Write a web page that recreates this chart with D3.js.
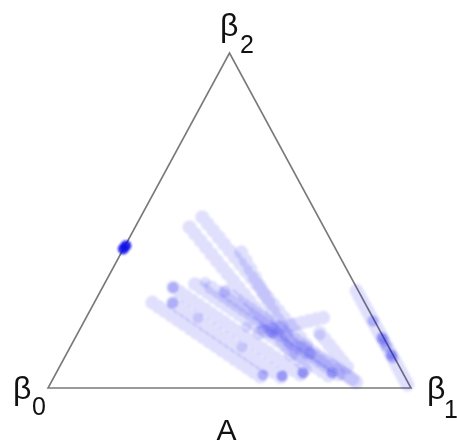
<!DOCTYPE html>
<html>
<head>
<meta charset="utf-8">
<script src="https://cdn.jsdelivr.net/npm/d3@7"></script>
<style>
  html, body { margin: 0; padding: 0; background: #fff; }
  svg { display: block; }
  text { font-family: "Liberation Sans", Arial, sans-serif; fill: #111; }
</style>
</head>
<body>
<svg id="chart" width="457" height="447"></svg>
<script>
// Ternary coordinates in percent: [share of β1, share of β2]; β0 = 100 − β1 − β2.
const vertexLabels = [
  { name: "β", sub: "0", corner: [0, 0] },
  { name: "β", sub: "1", corner: [100, 0] },
  { name: "β", sub: "2", corner: [0, 100] }
];
const axisTitle = "A";

// Trajectories along the β1–β2 edge
const edgeTrack = [
  [70.5,29],[72,27.5],[73.5,26],[75,24.5],[76.5,23],[78,21.5],[79,20.5],[79.5,20],[80.5,19],[81.5,18],
  [82.5,17],[83.5,16],[84.5,15],[85,14.5],[85.5,14],[86.5,13],[87.5,12],[88.5,11],[89.5,10],[90,9.5],
  [90.5,9],[91.5,8],[92.5,7],[93.5,6],[94.5,5],[95.5,4],[96.5,3],[97.5,2],[98.5,1]
];

// Interior trajectories
const trackU1 = [[15,48],[17.5,46],[20,44],[22.5,42],[25,40],[27.5,38],[30,36],[32.5,34],[35,32],[37.5,30],[40,28],[42.5,26],[45,24],[47.5,22],[50,20],[52.5,18],[55,16],[57.5,14],[60,12],[62,10]];
const trackU2 = [[17,51],[19.5,49],[22,47],[24.5,45],[27,43],[29.5,41],[32,39],[34.5,37],[37,35],[39.5,33],[42,31],[44.5,29],[47,27],[49.5,25],[52,23],[54.5,21],[57,19],[59.5,17],[62,15],[64.5,13]];
const trackU3 = [[33,40.5],[35.5,38],[38,35.5],[40.5,33],[43,30.5],[45.5,28],[48,25.5],[50.5,23],[53,20.5],[55.5,18],[58,15.5],[60.5,13],[63,10.5],[65.5,8],[68,5.5]];
const trackL1 = [[16,25.5],[18.4,24.2],[20.8,22.9],[23.2,21.6],[25.6,20.3],[28,19],[30.4,17.7],[32.8,16.4],[35.2,15.1],[37.6,13.8],[40,12.5],[42.4,11.2],[44.8,9.9],[47.2,8.6],[49.6,7.3],[52,6],[54.4,4.7],[56.8,3.4]];
const trackL2 = [[21.7,25.4],[24.1,24.1],[26.5,22.8],[28.9,21.5],[31.3,20.2],[33.7,18.9],[36.1,17.6],[38.5,16.3],[40.9,15],[43.3,13.7],[45.7,12.4],[48.1,11.1],[50.5,9.8],[52.9,8.5],[55.3,7.2],[57.7,5.9],[60.1,4.6],[62.5,3.3]];
const trackL3 = [[19.5,30],[21.9,28.7],[24.3,27.4],[26.7,26.1],[29.1,24.8],[31.5,23.5],[33.9,22.2],[36.3,20.9],[38.7,19.6],[41.1,18.3],[43.5,17],[45.9,15.7],[48.3,14.4],[50.7,13.1],[53.1,11.8],[55.5,10.5],[57.9,9.2],[60.3,7.9],[62.7,6.6],[65.1,5.3],[67.5,4]];
const trackL4 = [[25,31],[27.4,29.7],[29.8,28.4],[32.2,27.1],[34.6,25.8],[37,24.5],[39.4,23.2],[41.8,21.9],[44.2,20.6],[46.6,19.3],[49,18],[51.4,16.7],[53.8,15.4],[56.2,14.1],[58.6,12.8],[61,11.5],[63.4,10.2],[65.8,8.9],[68.2,7.6],[70.6,6.3],[73,5],[75.4,3.7]];
const trackL5 = [[30,30],[32.4,28.7],[34.8,27.4],[37.2,26.1],[39.6,24.8],[42,23.5],[44.4,22.2],[46.8,20.9],[49.2,19.6],[51.6,18.3],[54,17],[56.4,15.7],[58.8,14.4],[61.2,13.1],[63.6,11.8],[66,10.5],[68.4,9.2],[70.8,7.9],[73.2,6.6],[75.6,5.3],[78,4]];
const trackL6 = [[34.5,28.7],[36.9,27.4],[39.3,26.1],[41.7,24.8],[44.1,23.5],[46.5,22.2],[48.9,20.9],[51.3,19.6],[53.7,18.3],[56.1,17],[58.5,15.7],[60.9,14.4],[63.3,13.1],[65.7,11.8],[68.1,10.5],[70.5,9.2],[72.9,7.9],[75.3,6.6],[77.7,5.3],[80.1,4],[82.5,2.7]];
const trackR  = [[50,16.5],[51.7,17],[53.4,17.5],[55.1,18],[56.8,18.5],[58.5,19],[60.2,19.5],[61.9,20],[63.6,20.5],[65.3,21]];
const trackD1 = [[64,12.2],[66.5,10.9],[69,9.6],[71.5,8.3],[74,7],[76.5,5.7],[79,4.4],[81.5,3.1],[84,1.8]];
const trackD2 = [[66.7,16.4],[68.8,14.7],[70.9,13],[73,11.3],[75.1,9.6],[77.2,7.9],[79.3,6.2]];

// Repeated samples: [β1, β2, number of coinciding samples]
const repeated = [
  [0,41.5,16],[0.2,42.5,16],
  [19.5,30,2],[21.7,25.4,2],[27.5,31.6,1],[34.5,28.7,1],[30.9,20.9,1],[45.7,18.2,1],[50.3,17.3,1],
  [53.5,16.4,2],[47.3,12.2,1],[67,10.4,2],[67,15.8,1],
  [57.3,3.9,2],[62.7,3.6,3],[68,4.5,3],[76,4.5,2],
  [79.5,20,2],[84.5,15,3],[85.5,14,2],[87,12.5,2],[89.5,10,3],[90.5,9,2]
];

const tracks = [edgeTrack, trackU1, trackU2, trackU3, trackL1, trackL2, trackL3, trackL4, trackL5, trackL6, trackR, trackD1, trackD2];

const svg = d3.select("#chart");
const x = d3.scaleLinear().domain([0, 100]).range([48, 411]);
const y = d3.scaleLinear().domain([0, 100]).range([388, 53]);
const px = d => x(d[0] + d[1] / 2);
const py = d => y(d[1]);

const trackOpacity = 0.12;
const dotColor = "#1010e8";
const r = 7;

// soft edge on the sample dots
svg.append("defs").append("filter").attr("id", "soft")
  .attr("x", "-10%").attr("y", "-10%").attr("width", "120%").attr("height", "120%")
  .append("feGaussianBlur").attr("stdDeviation", 1.3);

// Triangle frame
const corners = [[0, 0], [100, 0], [0, 100]];
svg.append("path")
  .attr("d", d3.line().x(px).y(py)(corners) + "Z")
  .attr("fill", "none")
  .attr("stroke", "#7a7a7a")
  .attr("stroke-width", 1.6)
  .attr("stroke-linejoin", "miter");

// Samples: each trajectory is a translucent band of dots
const dots = svg.append("g").attr("filter", "url(#soft)");
tracks.forEach(t => {
  dots.append("g").attr("opacity", trackOpacity)
    .selectAll("circle").data(t).join("circle")
    .attr("cx", px).attr("cy", py).attr("r", r)
    .attr("fill", dotColor);
});
dots.selectAll(null).data(repeated).join("circle")
  .attr("cx", px).attr("cy", py).attr("r", d => d[2] > 8 ? 5.5 : 5.5)
  .attr("fill", dotColor)
  .attr("fill-opacity", d => 1 - Math.pow(1 - 0.12, d[2]));

// Vertex labels
const labelPos = {
  "0": { bx: 13, by: 399, sx: 32, sy: 415 },
  "1": { bx: 427, by: 399, sx: 444, sy: 418 },
  "2": { bx: 220, by: 36, sx: 240, sy: 53 }
};
vertexLabels.forEach(v => {
  const p = labelPos[v.sub];
  svg.append("text").attr("x", p.bx).attr("y", p.by)
    .attr("font-size", 32).text(v.name);
  svg.append("text").attr("x", p.sx).attr("y", p.sy)
    .attr("font-size", 25).text(v.sub);
});

svg.append("text")
  .attr("x", x(50) - 3).attr("y", 440)
  .attr("text-anchor", "middle")
  .attr("font-size", 30)
  .text(axisTitle);
</script>
</body>
</html>
